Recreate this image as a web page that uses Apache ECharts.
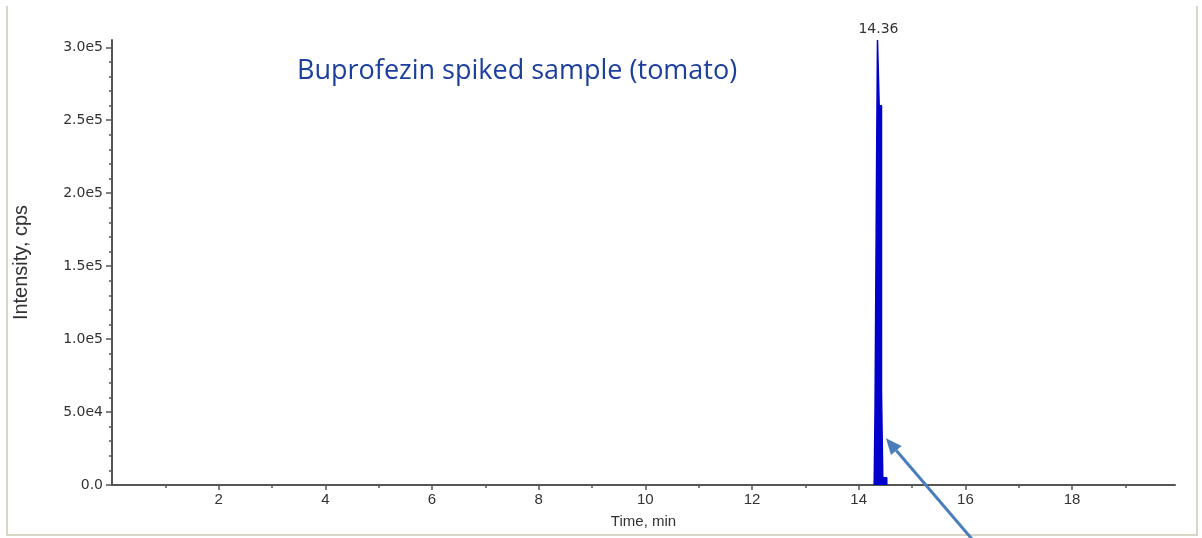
<!DOCTYPE html>
<html>
<head>
<meta charset="utf-8">
<script src="https://cdn.jsdelivr.net/npm/echarts@6/dist/echarts.min.js"></script>
<style>
html,body{margin:0;padding:0;background:#ffffff;}
#chart{width:1202px;height:538px;}
</style>
</head>
<body>
<div id="chart"></div>
<script>
// ---- data ----
var titleText = 'Buprofezin spiked sample (tomato)';
var xAxisName = 'Time, min';
var yAxisName = 'Intensity, cps';
// chromatogram samples (left edge of each acquisition step), time in min, intensity in cps
var peakTimes = [14.29, 14.306, 14.336, 14.352, 14.384, 14.427, 14.451, 14.526];
var peakIntensity = [0, 52000, 224000, 305000, 260000, 65000, 5000, 0];
var peakLabel = '14.36';
var xMajorTicks = [2, 4, 6, 8, 10, 12, 14, 16, 18];
var xMinorTicks = [1, 3, 5, 7, 9, 11, 13, 15, 17, 19];
var yMajorTicks = [0, 50000, 100000, 150000, 200000, 250000, 300000];
var yMinorTicks = [10000, 20000, 30000, 40000, 60000, 70000, 80000, 90000,
  110000, 120000, 130000, 140000, 160000, 170000, 180000, 190000,
  210000, 220000, 230000, 240000, 260000, 270000, 280000, 290000];
var arrowTip = [14.51, 32000];

var maxIdx = peakIntensity.indexOf(Math.max.apply(null, peakIntensity));
var seriesData = peakTimes.map(function (t, i) { return [t, peakIntensity[i]]; });

var armFont = 'Liberation Sans, Arial, sans-serif';
var wideFont = 'DejaVu Sans, sans-serif';
var axisColor = '#555';

var chart = echarts.init(document.getElementById('chart'), null, { renderer: 'canvas' });

chart.setOption({
  backgroundColor: '#ffffff',
  animation: false,
  title: {
    text: titleText, left: 292, top: 53,
    textStyle: { color: '#1c3f9e', fontSize: 27, fontWeight: 'normal', fontFamily: 'Open Sans, sans-serif' }
  },
  grid: { left: 112, right: 27, top: 40, bottom: 53 },
  xAxis: [{
    type: 'value', min: 0, max: 19.93,
    name: xAxisName, nameLocation: 'middle', nameGap: 29,
    nameTextStyle: { color: '#333', fontSize: 15, fontFamily: armFont },
    axisLine: { show: true, onZero: false, lineStyle: { color: axisColor, width: 2 } },
    axisTick: { show: true, customValues: xMajorTicks, length: 5, lineStyle: { color: axisColor, width: 1.5 } },
    axisLabel: { customValues: xMajorTicks, margin: 7, color: '#333', fontSize: 15, fontFamily: armFont },
    splitLine: { show: false }
  }, {
    type: 'value', min: 0, max: 19.93, position: 'bottom',
    axisLine: { show: false },
    axisTick: { show: true, customValues: xMinorTicks, length: 3, lineStyle: { color: axisColor, width: 1.5 } },
    axisLabel: { show: false },
    splitLine: { show: false }
  }],
  yAxis: [{
    type: 'value', min: 0, max: 305000,
    name: yAxisName, nameLocation: 'middle', nameGap: 81, nameRotate: 90,
    nameTextStyle: { color: '#333', fontSize: 20, fontFamily: armFont },
    axisLine: { show: true, onZero: false, lineStyle: { color: axisColor, width: 2 } },
    axisTick: { show: true, customValues: yMajorTicks, length: 6, lineStyle: { color: axisColor, width: 1.5 } },
    axisLabel: {
      customValues: yMajorTicks, margin: 9, color: '#333', fontSize: 14, fontFamily: wideFont,
      formatter: function (v) { return v === 0 ? '0.0' : v.toExponential(1).replace('e+', 'e'); }
    },
    splitLine: { show: false }
  }, {
    type: 'value', min: 0, max: 305000, position: 'left',
    axisLine: { show: false },
    axisTick: { show: true, customValues: yMinorTicks, length: 3, lineStyle: { color: axisColor, width: 1.5 } },
    axisLabel: { show: false },
    splitLine: { show: false }
  }],
  series: [{
    type: 'line', xAxisIndex: 0, yAxisIndex: 0,
    data: seriesData, step: 'end', showSymbol: false, symbol: 'none',
    lineStyle: { color: '#0000cc', width: 1.5 },
    areaStyle: { color: '#0000cc', opacity: 1 },
    markPoint: {
      symbol: 'circle', symbolSize: 0, silent: true,
      data: [{ coord: [peakTimes[maxIdx], peakIntensity[maxIdx]] }],
      label: { show: true, position: 'top', distance: 4, offset: [1, 0], formatter: peakLabel,
        color: '#333', fontSize: 14, fontFamily: wideFont }
    },
    z: 1
  }]
});

// frame and annotation arrow
var tip = chart.convertToPixel({ xAxisIndex: 0, yAxisIndex: 0 }, arrowTip);
var dx = 94, dy = 110;
var len = Math.sqrt(dx * dx + dy * dy);
var ux = dx / len, uy = dy / len;
var headLen = 16, headW = 7;
var base = [tip[0] + ux * headLen, tip[1] + uy * headLen];
chart.setOption({
  graphic: [
    { type: 'polyline', silent: true, z: 0,
      shape: { points: [[7, 6], [7, 535], [1197, 535], [1197, 6]] },
      style: { stroke: '#d9d6c8', lineWidth: 2, fill: null } },
    { type: 'line', silent: true, z: 10,
      shape: { x1: base[0], y1: base[1], x2: tip[0] + dx, y2: tip[1] + dy },
      style: { stroke: '#4a7ebb', lineWidth: 3 } },
    { type: 'polygon', silent: true, z: 10,
      shape: { points: [
        [tip[0], tip[1]],
        [base[0] - uy * headW, base[1] + ux * headW],
        [base[0] + uy * headW, base[1] - ux * headW]
      ] },
      style: { fill: '#4a7ebb' } }
  ]
});
</script>
</body>
</html>
